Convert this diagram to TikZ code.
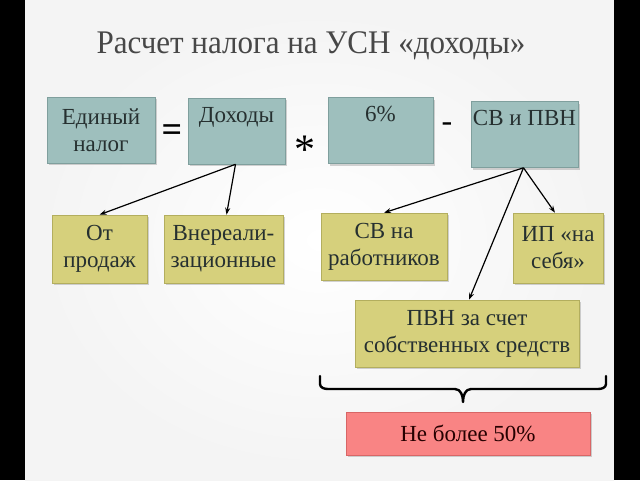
\documentclass[tikz,border=0pt]{standalone}
\usepackage{fontspec}
\setmainfont{Liberation Serif}
\usetikzlibrary{shadows,arrows.meta}
\definecolor{teal1}{HTML}{9EBFBD}
\definecolor{teal2}{HTML}{7F9F9D}
\definecolor{olive1}{HTML}{D6D07C}
\definecolor{olive2}{HTML}{B3AE5E}
\definecolor{red1}{HTML}{F98484}
\definecolor{red2}{HTML}{D86666}
\definecolor{txt}{HTML}{263030}
\definecolor{ttl}{HTML}{474747}
\tikzset{
  basebox/.style={draw, line width=0.6pt, inner sep=2pt, align=center, text=txt,
    font=\fontsize{23}{27}\selectfont,
    drop shadow={shadow xshift=2pt, shadow yshift=-2pt, opacity=0.35, fill=gray}},
  tealbox/.style={basebox, fill=teal1, draw=teal2},
  topbox/.style={tealbox, text height=22pt, text depth=40pt},
  olivebox/.style={basebox, fill=olive1, draw=olive2},
  redbox/.style={basebox, fill=red1, draw=red2, text=black!85!red},
  opsym/.style={font=\fontsize{36}{36}\selectfont\bfseries, text=black, inner sep=0pt},
  conn/.style={-{Stealth[length=7pt,width=5pt]}, line width=1.2pt, black},
}
\begin{document}
\begin{tikzpicture}[x=1pt,y=-1pt]
\useasboundingbox (0,0) rectangle (640,480);
% background
\shade[inner color=white, outer color=gray!9] (25,0) rectangle (614,480);
\fill[black] (0,0) rectangle (25,480);
\fill[black] (614,0) rectangle (640,480);
% title
\node[font=\fontsize{33}{36}\selectfont, text=ttl, inner sep=0pt, xscale=0.94] (title) at (311,46) {Расчет налога на УСН «доходы»};
% top row
\node[tealbox, minimum width=108pt, minimum height=66pt] (ed) at (101,130) {Единый\\налог};
\node[opsym] (eq) at (172,133) {=};
\node[topbox, minimum width=97pt] (doh) at (236.5,131) {Доходы};
\node[opsym, font=\fontsize{42}{42}\selectfont] (mul) at (305,150) {*};
\node[topbox, minimum width=105pt] (pc) at (380.5,130.5) {6\%};
\node[opsym, font=\fontsize{32}{32}\selectfont] (minus) at (447,127) {-};
\node[topbox, minimum width=107pt] (sv) at (524.5,134.5) {СВ и ПВН};
% second row
\node[olivebox, minimum width=95pt, minimum height=68pt] (prod) at (99.5,249) {От\\продаж};
\node[olivebox, minimum width=119pt, minimum height=68pt] (vner) at (223.5,249) {Внереали-\\зационные};
\node[olivebox, minimum width=126pt, minimum height=67pt] (svr) at (384,246.5) {СВ на\\работников};
\node[olivebox, minimum width=90pt, minimum height=70pt] (ip) at (558,248) {ИП «на\\себя»};
\node[olivebox, minimum width=224pt, minimum height=67pt] (pvn) at (467,333.5) {ПВН за счет\\собственных средств};
\node[redbox, minimum width=244pt, minimum height=43pt] (red) at (468,433.5) {Не более 50\%};
% connectors
\draw[conn] ([xshift=-1pt]doh.south) -- (prod.north);
\draw[conn] ([xshift=-1pt]doh.south) -- ([xshift=3pt]vner.north);
\draw[conn] ([xshift=-1pt]sv.south) -- (svr.north);
\draw[conn] ([xshift=-1pt]sv.south) -- ([xshift=-3pt]ip.north);
\draw[conn] ([xshift=-1pt]sv.south) -- ([xshift=2pt]pvn.north);
% brace
\coordinate (bl) at (320,376);
\coordinate (br) at (606,376);
\coordinate (btip) at (463,402);
\draw[line width=2.4pt, line cap=round, line join=round]
  (bl) -- (320,384) to[out=-90,in=180] (328,389) -- (455,389) to[out=0,in=90] (btip)
  to[out=90,in=180] (471,389) -- (598,389) to[out=0,in=-90] (606,384) -- (br);
\end{tikzpicture}
\end{document}
